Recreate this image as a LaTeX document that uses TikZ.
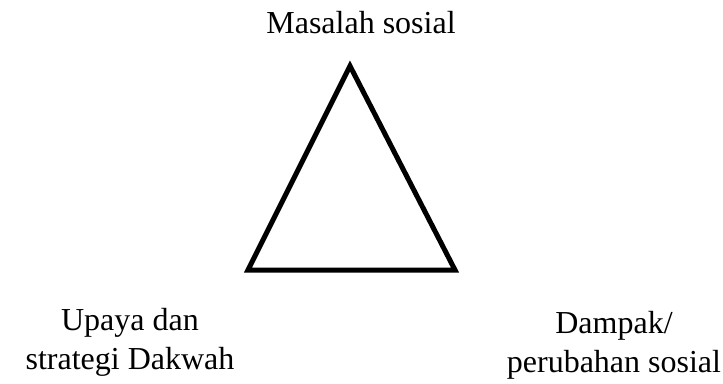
\documentclass[tikz,border=0pt]{standalone}
\usepackage{fontspec}
\setmainfont{Liberation Serif}
\begin{document}
\begin{tikzpicture}[x=1pt,y=-1pt,line join=miter,
    lbl/.style={align=center,anchor=base,inner sep=0pt,
      font=\fontsize{32}{39}\selectfont}]
    \useasboundingbox (0,0) rectangle (723,383);
    \coordinate (apex) at (350,66);
    \coordinate (bl) at (248,270);
    \coordinate (br) at (455,270);

    \draw[line width=5pt] (apex) -- (bl) -- (br) -- cycle;

    % base anchor sits on the last line
    \node[lbl] (masalah) at (361,33) {Masalah sosial};
    \node[lbl] (upaya) at (130,369) {Upaya dan\\strategi Dakwah};
    \node[lbl] (dampak) at (614,372) {Dampak/\\perubahan sosial};
\end{tikzpicture}
\end{document}
